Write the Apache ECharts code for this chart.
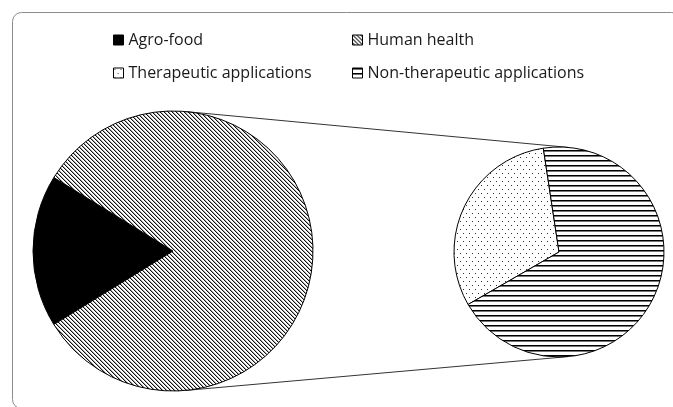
<!DOCTYPE html>
<html>
<head>
    <meta charset="utf-8" />
    <title>Pie of pie</title>
    <script src="https://cdn.jsdelivr.net/npm/echarts@6/dist/echarts.min.js"></script>
    <style type="text/css">
        html,
        body {
            width: 100%;
            height: 100%;
            margin: 0;
            background: #fff;
        }

        #main {
            width: 673px;
            height: 407px;
        }
    </style>
</head>
<body>
    <div id="main"></div>
    <script>
        // data (percent of total)
        var mainNames = ['Agro-food', 'Human health'];
        var mainValues = [17.6, 82.4];
        var subNames = ['Therapeutic applications', 'Non-therapeutic applications'];
        var subValues = [25.5, 56.9];

        // layout
        var bigC = [173, 251], bigR = 140;
        var smallC = [559, 252], smallR = 105;

        // fill patterns drawn on small canvases
        function makePattern(kind) {
            var c = document.createElement('canvas');
            var ctx = c.getContext('2d');
            var i;
            if (kind === 'diag') {
                c.width = 4; c.height = 4;
                ctx.fillStyle = '#fff'; ctx.fillRect(0, 0, 4, 4);
                for (i = 0; i < 4; i++) {
                    ctx.fillStyle = '#111'; ctx.fillRect(i, i, 1, 1);
                    ctx.fillStyle = '#aaa'; ctx.fillRect((i + 1) % 4, i, 1, 1);
                }
            } else if (kind === 'dots') {
                c.width = 6; c.height = 8;
                ctx.fillStyle = '#fff'; ctx.fillRect(0, 0, 6, 8);
                ctx.fillStyle = '#333';
                ctx.fillRect(1, 1, 1, 1);
                ctx.fillRect(4, 5, 1, 1);
            } else {
                c.width = 5; c.height = 5;
                ctx.fillStyle = '#fff'; ctx.fillRect(0, 0, 5, 5);
                ctx.fillStyle = '#000'; ctx.fillRect(0, 0, 5, 1);
                ctx.fillStyle = '#777'; ctx.fillRect(0, 1, 5, 1);
            }
            return { image: c, repeat: 'repeat' };
        }

        var mainColors = ['#000', makePattern('diag')];
        var subColors = [makePattern('dots'), makePattern('horiz')];

        // outer tangent lines between the two pies
        var d = smallC[0] - bigC[0];
        var s = (bigR - smallR) / d;
        var co = Math.sqrt(1 - s * s);
        var tangents = [-1, 1].map(function (sg) {
            return [
                bigC[0] + bigR * s, bigC[1] + sg * bigR * co,
                smallC[0] + smallR * s, smallC[1] + sg * smallR * co
            ];
        });

        var myChart = echarts.init(document.getElementById('main'));

        var legendPos = [[113, 32], [352, 32], [113, 65], [352, 65]];
        var allNames = mainNames.concat(subNames);
        var legends = allNames.map(function (n, i) {
            return {
                data: [n],
                left: legendPos[i][0],
                top: legendPos[i][1],
                padding: 0,
                itemWidth: 10,
                itemHeight: 10,
                icon: 'rect',
                selectedMode: false,
                itemStyle: { borderColor: '#000', borderWidth: 1 },
                textStyle: { fontFamily: 'Open Sans', fontSize: 16, color: '#1a1a1a' }
            };
        });

        function pieData(names, values, colors) {
            return names.map(function (n, i) {
                return { name: n, value: values[i], itemStyle: { color: colors[i] } };
            });
        }

        var option = {
            animation: false,
            legend: legends,
            graphic: [
                {
                    type: 'rect',
                    shape: { x: 12.5, y: 12.5, width: 668, height: 396, r: 9 },
                    style: { fill: 'none', stroke: '#8c8c8c', lineWidth: 1 }
                }
            ].concat(tangents.map(function (t) {
                return {
                    type: 'line',
                    z: -1,
                    shape: { x1: t[0], y1: t[1], x2: t[2], y2: t[3] },
                    style: { stroke: '#333', lineWidth: 1 }
                };
            })),
            series: [
                {
                    name: 'main',
                    type: 'pie',
                    center: bigC,
                    radius: bigR,
                    startAngle: 180 + 360 * mainValues[0] / (mainValues[0] + mainValues[1]) / 2,
                    label: { show: false },
                    labelLine: { show: false },
                    emphasis: { disabled: true },
                    itemStyle: { borderColor: '#000', borderWidth: 1 },
                    data: pieData(mainNames, mainValues, mainColors)
                },
                {
                    name: 'split',
                    type: 'pie',
                    center: smallC,
                    radius: smallR,
                    startAngle: 210,
                    label: { show: false },
                    labelLine: { show: false },
                    emphasis: { disabled: true },
                    itemStyle: { borderColor: '#000', borderWidth: 1 },
                    data: pieData(subNames, subValues, subColors)
                }
            ]
        };

        myChart.setOption(option);
    </script>
</body>
</html>
